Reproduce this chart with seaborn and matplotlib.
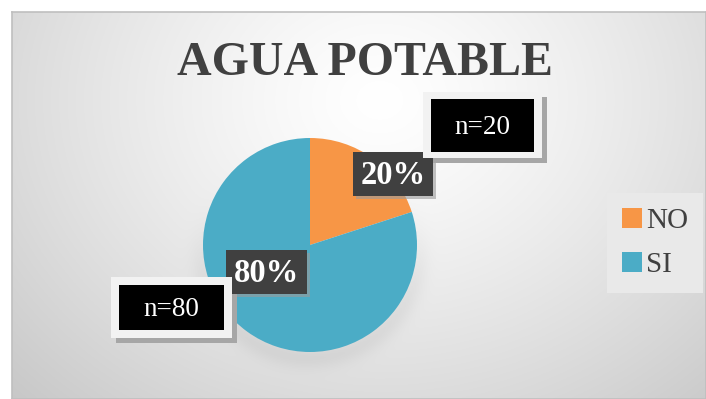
import numpy as np
import matplotlib
matplotlib.use("Agg")
import matplotlib.pyplot as plt
import matplotlib.transforms as mtransforms
from matplotlib.patches import Rectangle
import seaborn as sns

# ---- data ----
categories = ["NO", "SI"]
values = [20, 80]
pct_labels = ["20%", "80%"]
n_labels = ["n=20", "n=80"]
title = "AGUA POTABLE"

sns.set_theme(style="white")
plt.rcParams["font.family"] = ["Liberation Serif", "DejaVu Serif"]
colors = ["#F79646", "#4BACC6"]

W, H = 706, 399
fig = plt.figure(figsize=(W / 100, H / 100), dpi=100)
fig.patch.set_facecolor("white")

# pixel (top-left origin) transform
px = mtransforms.Affine2D().scale(1 / W, -1 / H).translate(0, 1) + fig.transFigure

# background gradient panel
bx0, by0 = 12, 12
bg_ax = fig.add_axes([bx0 / W, 0, 1 - bx0 / W, 1 - by0 / H], zorder=0)
gx = np.linspace(bx0, W, 500)
gy = np.linspace(by0, H, 300)
GX, GY = np.meshgrid(gx, gy)
d = np.sqrt(((GX - 380) / 520) ** 2 + ((GY - 100) / 430) ** 2)
val = 1.0 - 0.22 * np.clip(d, 0, 1.2) ** 1.3
# subtle soft pie shadow (below the pie)
sd = np.sqrt((GX - 310) ** 2 + (GY - 250) ** 2)
w = 1 / (1 + np.exp(-(GY - 250) / 20))
val = val - 0.05 * np.exp(-((sd - 108) / 12) ** 2) * w
img = np.dstack([val, val, val])
bg_ax.imshow(np.clip(img, 0, 1), aspect="auto", extent=(0, 1, 1, 0))
bg_ax.set_xlim(0, 1)
bg_ax.set_ylim(1, 0)
bg_ax.set_xticks([]); bg_ax.set_yticks([])
for s in bg_ax.spines.values():
    s.set_color("#BFBFBF"); s.set_linewidth(1.2)

# pie
cx, cy, r = 310, 245, 107
ax = fig.add_axes([(cx - r) / W, 1 - (cy + r) / H, 2 * r / W, 2 * r / H], zorder=2)
ax.set_facecolor("none")
wedges, _ = ax.pie(values, colors=colors, startangle=90, counterclock=False,
                   wedgeprops=dict(linewidth=0))
ax.set_xlim(-1, 1); ax.set_ylim(-1, 1)
ax.set_aspect("equal")
ax.axis("off")

# title
fig.text(365 / W, 1 - 63 / H, title, ha="center", va="center", fontsize=34.5,
         fontweight="bold", color="#404040", zorder=5)

plt.rcParams["hatch.color"] = "#5A5A5A"
plt.rcParams["hatch.linewidth"] = 0.8

def dark_box(x0, y0, x1, y1, text):
    fig.add_artist(Rectangle((x0 + 3, y0 + 3), x1 - x0, y1 - y0, transform=px,
                             facecolor="#9A9A9A", edgecolor="none", alpha=0.6, zorder=5))
    fig.add_artist(Rectangle((x0, y0), x1 - x0, y1 - y0, transform=px,
                             facecolor="#404040", edgecolor="none", zorder=6,
                             hatch=".."))
    fig.text((x0 + x1) / 2 / W, 1 - ((y0 + y1) / 2 + 1) / H, text, ha="center", va="center",
             fontsize=23.5, fontweight="bold", color="white", zorder=7)

def n_box(ox0, oy0, ox1, oy1, ix0, iy0, ix1, iy1, text):
    fig.add_artist(Rectangle((ox0 + 5, oy0 + 5), ox1 - ox0, oy1 - oy0, transform=px,
                             facecolor="#A6A6A6", edgecolor="none", zorder=5))
    fig.add_artist(Rectangle((ox0, oy0), ox1 - ox0, oy1 - oy0, transform=px,
                             facecolor="#F2F2F2", edgecolor="none", zorder=6))
    fig.add_artist(Rectangle((ix0, iy0), ix1 - ix0, iy1 - iy0, transform=px,
                             facecolor="black", edgecolor="none", zorder=7))
    fig.text((ix0 + ix1) / 2 / W, 1 - ((iy0 + iy1) / 2 + 2) / H, text, ha="center", va="center",
             fontsize=19.5, color="white", zorder=8)

dark_box(353, 152, 433, 196, pct_labels[0])
dark_box(226, 250, 307, 294, pct_labels[1])
n_box(423, 92, 542, 158, 431, 99, 534, 152, n_labels[0])
n_box(111, 277, 232, 338, 119, 285, 224, 330, n_labels[1])

# legend
leg = fig.legend(wedges, categories, loc="center left",
                 bbox_to_anchor=(607 / W, 1 - 243 / H),
                 frameon=True, fancybox=False, framealpha=1,
                 facecolor="#E9E9E9", edgecolor="none",
                 fontsize=21, handlelength=0.7, handleheight=0.7,
                 handletextpad=0.15, labelspacing=0.6, borderpad=0.5,
                 borderaxespad=0)
for t in leg.get_texts():
    t.set_color("#404040")
leg.set_zorder(9)

fig.savefig("out.png", dpi=100)
